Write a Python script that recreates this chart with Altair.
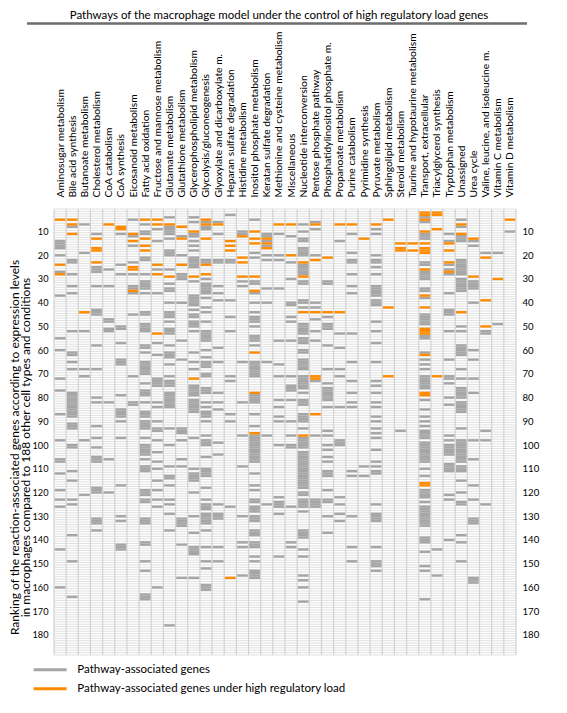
import altair as alt
import pandas as pd

TITLE = "Pathways of the macrophage model under the control of high regulatory load genes"
Y_TITLE = [
    "Ranking of the reaction-associated genes according to expression levels",
    "in macrophages compared to 188 other cell types and conditions",
]
LEGEND_LABELS = ["Pathway-associated genes", "Pathway-associated genes under high regulatory load"]
Y_TICKS = [10, 20, 30, 40, 50, 60, 70, 80, 90, 100, 110, 120, 130, 140, 150, 160, 170, 180]
N_RANKS = 188

PATHWAYS = [
    "Aminosugar metabolism", "Bile acid synthesis", "Butanoate metabolism", "Cholesterol metabolism",
    "CoA catabolism", "CoA synthesis", "Eicosanoid metabolism", "Fatty acid oxidation",
    "Fructose and mannose metabolism", "Glutamate metabolism", "Glutathione metabolism",
    "Glycerophospholipid metabolism", "Glycolysis/gluconeogenesis", "Glyoxylate and dicarboxylate m.",
    "Heparan sulfate degradation", "Histidine metabolism", "Inositol phosphate metabolism",
    "Keratan sulfate degradation", "Methionine and cysteine metabolism", "Miscellaneous",
    "Nucleotide interconversion", "Pentose phosphate pathway", "Phosphatidylinositol phosphate m.",
    "Propanoate metabolism", "Purine catabolism", "Pyrimidine synthesis", "Pyruvate metabolism",
    "Sphingolipid metabolism", "Steroid metabolism", "Taurine and hypotaurine metabolism",
    "Transport, extracellular", "Triacylglycerol synthesis", "Tryptophan metabolism", "Unassigned",
    "Urea cycle", "Valine, leucine, and isoleucine m.", "Vitamin C metabolism", "Vitamin D metabolism",
]

GREY_RANKS = [
    [14, 15, 16, 17, 20, 27, 37, 55, 60, 72, 77, 87, 98, 106, 107, 112, 119, 123, 126, 144, 160],
    [8, 22, 23, 28, 33, 36, 52, 61, 62, 65, 68, 78, 79, 80, 81, 82, 83, 84, 85, 86, 87, 88, 91, 92, 93,
     100, 101, 111, 115, 123, 125, 138, 149, 164],
    [7, 19, 52, 68, 71, 98, 121],
    [11, 25, 26, 27, 33, 43, 44, 45, 58, 68, 80, 82, 92, 97, 101, 105, 106, 107, 118, 119, 120,
     131, 132, 133, 136],
    [26, 33, 47, 48, 51, 52, 82, 106, 120],
    [11, 24, 28, 50, 51, 57, 64, 65, 66, 79, 85, 86, 87, 88, 90, 97, 117, 130, 132, 142, 143, 144],
    [5, 12, 16, 23, 28, 33, 34, 36, 45, 71, 82, 83],
    [7, 10, 11, 21, 22, 28, 31, 32, 33, 34, 36, 44, 45, 49, 50, 51, 52, 58, 59, 61, 65, 66, 67, 68,
     69, 70, 74, 77, 78, 79, 82, 86, 87, 88, 90, 91, 92, 93, 97, 100, 101, 102, 103, 104, 106, 109,
     110, 111, 119, 120, 121, 123, 124, 131, 132, 133, 141, 142, 149, 153, 163, 164, 165],
    [9, 14, 26, 36, 57, 62, 72, 73, 74, 75, 82, 84, 90, 93, 94, 98, 103, 107, 110, 115, 119, 123,
     126, 160],
    [4, 8, 9, 10, 11, 13, 18, 19, 20, 26, 32, 34, 35, 40, 44, 45, 46, 48, 51, 52, 53, 58, 61, 62, 63,
     66, 71, 73, 74, 75, 78, 79, 80, 81, 82, 83, 84, 93, 100, 109, 113, 114, 117, 123, 125, 129, 136,
     176],
    [12, 20, 28, 29, 30, 40, 56, 64, 93, 94, 95, 98, 106, 109, 131, 132, 133, 134, 142, 156],
    [4, 6, 11, 12, 14, 16, 18, 21, 22, 23, 24, 25, 31, 37, 38, 39, 40, 41, 43, 45, 46, 48, 49, 50, 52,
     61, 65, 68, 75, 76, 77, 78, 79, 81, 82, 83, 84, 85, 86, 97, 110, 112, 113, 114, 115, 120, 130,
     137, 143, 144, 145, 146, 156],
    [6, 8, 9, 22, 23, 30, 32, 33, 34, 35, 36, 38, 42, 44, 48, 52, 53, 54, 55, 56, 60, 63, 65, 66, 67,
     70, 71, 76, 77, 78, 82, 84, 86, 87, 88, 90, 96, 98, 99, 100, 105, 110, 111, 112, 113, 118, 123,
     125, 126, 127, 129, 130, 131, 132, 133, 136, 143, 149, 152, 159, 160, 161],
    [6, 11, 22, 23, 33, 36, 39, 59, 65, 78, 82, 85, 99, 104, 125, 129, 130, 131, 143, 149],
    [3, 22, 23, 39, 46, 52, 71, 73, 87, 90, 126],
    [10, 11, 31, 33, 65, 82, 96, 109, 130, 141, 143, 155],
    [5, 19, 21, 31, 32, 36, 40, 44, 46, 47, 48, 50, 54, 55, 56, 58, 65, 66, 67, 68, 69, 70, 71, 79,
     80, 81, 82, 87, 92, 96, 97, 98, 99, 100, 101, 102, 103, 104, 105, 106, 107, 112, 117, 119, 123,
     124, 126, 127, 128, 130, 131, 132, 136, 137, 138, 141, 142, 143, 147, 149, 153, 154, 155, 156],
    [11, 12, 14, 16, 20, 22, 34, 40, 65, 96, 125],
    [11, 20, 22, 34, 56, 66, 71, 81, 84, 88, 90, 100, 122, 124, 125, 126, 129, 147],
    [12, 23, 30, 40, 41, 46, 48, 56, 71, 75, 76, 77, 81, 90, 96, 100, 101, 126, 141, 143],
    [7, 10, 13, 14, 17, 18, 19, 20, 24, 25, 26, 27, 28, 31, 32, 39, 40, 42, 49, 50, 51, 52, 53, 55,
     56, 57, 60, 61, 64, 65, 66, 67, 68, 71, 72, 73, 74, 75, 76, 78, 81, 82, 83, 87, 88, 89, 90, 93,
     97, 98, 99, 100, 101, 103, 104, 105, 106, 107, 108, 109, 110, 111, 112, 113, 114, 115, 116, 117,
     118, 120, 121, 123, 124, 125, 126, 128, 136, 137, 138, 139, 144, 147, 155, 157, 160, 166],
    [6, 9, 20, 40, 42, 47, 52, 56, 73, 96, 123, 124, 125, 126],
    [31, 32, 46, 49, 50, 51, 58, 68, 74, 76, 77, 78, 79, 80, 81, 84, 94, 96, 100, 102, 105, 107, 111,
     112, 113, 119, 123, 124, 130, 137],
    [14, 53, 59, 68, 71, 84, 98, 99, 100, 122, 125, 129, 132],
    [11, 19, 22, 23, 28, 33, 36, 53, 65, 73, 78, 82, 84, 111, 113, 130, 143, 149],
    [109, 113],
    [9, 11, 20, 22, 23, 25, 28, 33, 34, 35, 36, 37, 39, 40, 41, 48, 52, 57, 65, 73, 75, 78, 82, 84, 88,
     90, 93, 95, 97, 102, 107, 109, 111, 112, 125, 129, 130, 131, 132, 143, 149, 150, 151, 153],
    [],
    [94],
    [],
    [4, 6, 11, 12, 13, 23, 24, 27, 28, 29, 30, 34, 35, 38, 45, 46, 47, 48, 49, 54, 55, 61, 64, 66, 68,
     71, 72, 73, 74, 75, 76, 81, 85, 88, 90, 92, 94, 95, 96, 97, 99, 100, 101, 102, 103, 104, 105, 106,
     107, 110, 113, 119, 120, 121, 122, 124, 126, 127, 128, 129, 130, 131, 132, 133, 134, 139, 140,
     141, 145, 151, 153, 165],
    [144, 155],
    [11, 14, 24, 26, 28, 36, 43, 44, 45, 52, 64, 71, 72, 74, 80, 83, 96, 98, 100, 101, 102, 103, 104,
     108, 109, 110, 111, 121, 123, 140],
    [5, 8, 12, 13, 14, 22, 23, 24, 25, 26, 27, 28, 30, 31, 32, 33, 34, 35, 50, 52, 58, 59, 60, 61, 62,
     68, 72, 76, 77, 78, 79, 80, 82, 83, 84, 85, 86, 93, 98, 99, 100, 101, 102, 103, 104, 105, 106,
     107, 109, 110, 111, 115, 120, 124, 125, 138, 141, 149],
    [14, 16, 31, 32, 33, 34, 40, 60, 64, 72, 78, 98, 106, 117, 123, 131, 132, 133, 156, 157, 158],
    [19, 52, 53, 94, 98, 125],
    [19, 49],
    [10],
]

ORANGE_RANKS = [
    [5, 24, 28], [5, 7, 11], [44], [13, 17, 18, 23], [7], [8, 9], [11, 14, 25, 26, 35],
    [5, 13, 16, 18], [5, 7, 24, 28, 53], [7, 29], [8, 13, 24], [10, 29, 72], [5, 7, 13, 24, 28],
    [7], [14, 16, 18, 156], [12, 21, 23, 29], [10, 13, 15, 29, 35, 61, 78, 95], [13, 15, 17],
    [7], [7, 20], [23, 29, 44, 96], [7, 22, 44, 71, 72, 87], [21, 44], [7, 44], [7], [13], [7],
    [5, 42, 71], [15, 17, 18], [15, 18],
    [2, 3, 5, 10, 15, 17, 18, 19, 26, 37, 42, 51, 52, 53, 62, 78, 79, 116, 117],
    [2, 3, 9, 71], [15, 18, 23, 27], [7, 11, 44], [13, 29], [21, 39, 50], [30], [5],
]

GREY_COLOR = "#a6a6a6"
ORANGE_COLOR = "#ff8c00"
FONT = "Lato"

records = []
for i, name in enumerate(PATHWAYS):
    orange = set(ORANGE_RANKS[i])
    for r in sorted(set(GREY_RANKS[i]) - orange):
        records.append({"col": i, "pathway": name, "rank": r, "kind": LEGEND_LABELS[0]})
    for r in sorted(orange):
        records.append({"col": i, "pathway": name, "rank": r, "kind": LEGEND_LABELS[1]})
cells = pd.DataFrame(records)

n = len(PATHWAYS)
W, H = 462, 446

x_scale = alt.Scale(domain=[0, n], nice=False, zero=False)
y_scale = alt.Scale(domain=[0.5, N_RANKS + 0.5], reverse=True, nice=False, zero=False)

label_array = "[" + ",".join("'" + p + "'" for p in PATHWAYS) + "]"

top_axis = alt.Axis(
    orient="top", values=[i + 0.5 for i in range(n)],
    labelExpr=label_array + "[floor(datum.value)]",
    labelAngle=270, labelAlign="left", labelBaseline="middle",
    ticks=False, domain=False, grid=False, labelPadding=12, labelOverlap=False,
    labelFlush=False, labelLimit=400, labelFontSize=10.3, title=None,
)
left_axis = alt.Axis(
    orient="left", values=Y_TICKS, ticks=False, domain=False, grid=False,
    labelPadding=6, labelFontSize=9.2, labelOverlap=False,
    title=Y_TITLE, titleFontSize=12, titleFontWeight="normal", titleAngle=270,
    titleX=-35.3, titleY=238, titleAlign="center", titleBaseline="alphabetic", titleLineHeight=10.6,
)
right_axis = alt.Axis(
    orient="right", values=Y_TICKS, ticks=False, domain=False, grid=False,
    labelPadding=6, labelFontSize=9.6, labelOverlap=False, title=None,
)

legend = alt.Legend(
    orient="none", legendX=-9.6, legendY=455, title=None, direction="vertical",
    symbolType="M-4,-0.36L4,-0.36L4,0.36L-4,0.36Z", symbolSize=68,
    symbolStrokeWidth=0, symbolOpacity=1, labelFontSize=11.5, labelFont=FONT,
    labelOffset=21.4, rowPadding=6, labelLimit=400,
)

cells_layer = alt.Chart(cells).transform_calculate(
    x0="datum.col + 0.06", x1="datum.col + 0.94",
    y0="datum.rank - 0.5", y1="datum.rank + 0.5",
).mark_rect().encode(
    x=alt.X("x0:Q", scale=x_scale, axis=top_axis),
    x2="x1:Q",
    y=alt.Y("y0:Q", scale=y_scale, axis=left_axis),
    y2="y1:Q",
    color=alt.Color("kind:N", scale=alt.Scale(domain=LEGEND_LABELS, range=[GREY_COLOR, ORANGE_COLOR]),
                    legend=legend),
    tooltip=["pathway:N", "rank:Q", "kind:N"],
)

bounds = pd.DataFrame({"b": [k + 0.5 for k in range(N_RANKS + 1)]})
hlines = alt.Chart(bounds).mark_rule(color="#e0e0e0", strokeWidth=1).encode(
    y=alt.Y("b:Q", scale=y_scale, axis=right_axis),
    x=alt.value(0), x2=alt.value(W),
)

seps = pd.DataFrame({"c": list(range(n + 1))})
vlines = alt.Chart(seps).mark_rule(color="#d2d2d2", strokeWidth=1.2).encode(
    x=alt.X("c:Q", scale=x_scale, axis=None),
    y=alt.value(0), y2=alt.value(H),
)

one = pd.DataFrame({"t": [TITLE]})
title_text = alt.Chart(one).mark_text(
    fontSize=11.5, font=FONT, align="center", baseline="alphabetic", color="black"
).encode(text="t:N", x=alt.value(225), y=alt.value(-190))
title_line = alt.Chart(one).mark_rule(color="#6d6d6d", strokeWidth=2.5).encode(
    x=alt.value(-27), x2=alt.value(473), y=alt.value(-185.5)
)

chart = alt.layer(hlines, vlines, cells_layer, title_text, title_line).resolve_axis(
    x="independent", y="independent"
).properties(
    width=W, height=H,
    autosize=alt.AutoSizeParams(type="none"),
    padding={"left": 46, "top": 201, "right": 41, "bottom": 43},
).configure_view(stroke=None).configure_axis(
    labelFont=FONT, titleFont=FONT, labelColor="black", titleColor="black"
)

chart.save("out.html", embed_options={"renderer": "svg", "actions": False})
